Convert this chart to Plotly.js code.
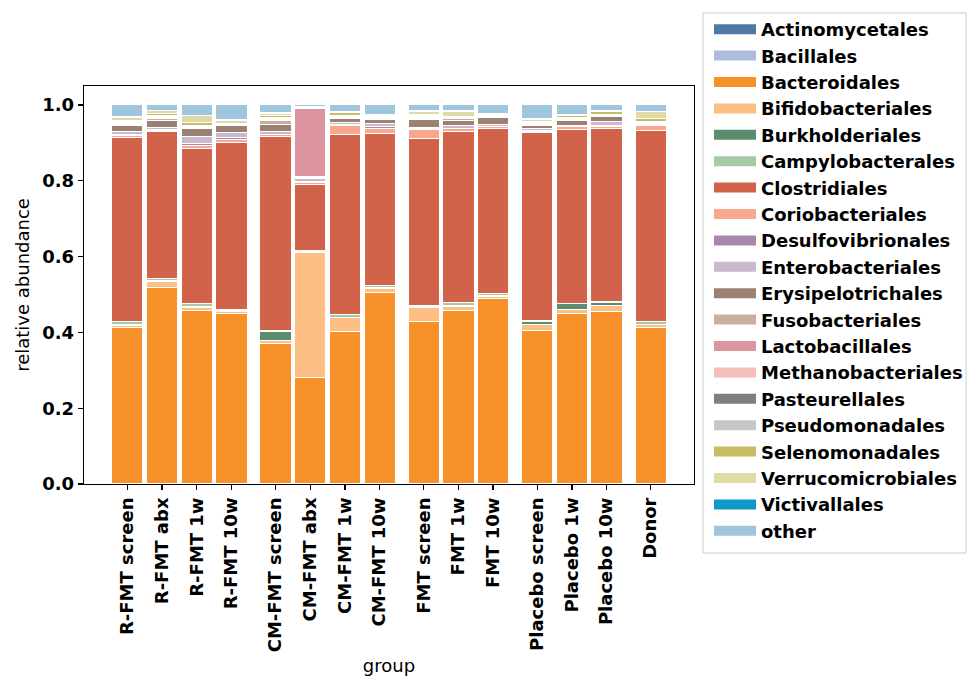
<!DOCTYPE html>
<html><head><meta charset="utf-8">
<script src="https://cdn.plot.ly/plotly-3.0.1.min.js"></script>
<style>body{margin:0;background:#fff}</style>
</head><body><div id="chart" style="width:968px;height:677px"></div>
<script>
const categories = ["R-FMT screen","R-FMT abx","R-FMT 1w","R-FMT 10w","CM-FMT screen","CM-FMT abx","CM-FMT 1w","CM-FMT 10w","FMT screen","FMT 1w","FMT 10w","Placebo screen","Placebo 1w","Placebo 10w","Donor"];
const groupSizes = [4,4,3,3,1];
const orderNames = ["Actinomycetales","Bacillales","Bacteroidales","Bifidobacteriales","Burkholderiales","Campylobacterales","Clostridiales","Coriobacteriales","Desulfovibrionales","Enterobacteriales","Erysipelotrichales","Fusobacteriales","Lactobacillales","Methanobacteriales","Pasteurellales","Pseudomonadales","Selenomonadales","Verrucomicrobiales","Victivallales","other"];
const orderColors = ["#4e79a7","#adbcd9","#f7922b","#fdbf84","#5a8c6f","#a6c9a6","#d1634a","#f9a78e","#a689a8","#c9b9cc","#9c8072","#caaea1","#dc95a0","#f2bfbc","#7f7f7f","#c6c6c6","#c8bd63","#e0d9a8","#0f99c8","#9fc6de"];

const actinomycetales   = [0.001,0.001,0.001,0.001,0.001,0.001,0.001,0.001,0.001,0.001,0.001,0.001,0.001,0.001,0.001];
const bacillales        = [0.001,0.001,0.001,0.001,0.001,0.001,0.001,0.001,0.001,0.001,0.001,0.001,0.001,0.001,0.001];
const bacteroidales     = [0.410,0.517,0.457,0.449,0.368,0.278,0.401,0.504,0.427,0.457,0.487,0.404,0.449,0.454,0.412];
const bifidobacteriales = [0.006,0.015,0.007,0.004,0.009,0.332,0.035,0.009,0.036,0.010,0.006,0.014,0.010,0.014,0.006];
const burkholderiales   = [0.003,0.004,0.003,0.002,0.023,0.001,0.002,0.003,0.002,0.002,0.002,0.009,0.014,0.010,0.002];
const campylobacterales = [0.007,0.004,0.007,0.004,0.002,0.002,0.007,0.007,0.003,0.008,0.006,0.003,0.002,0.002,0.008];
const clostridiales     = [0.486,0.387,0.410,0.440,0.512,0.174,0.475,0.401,0.442,0.451,0.435,0.496,0.459,0.456,0.502];
const coriobacteriales  = [0.005,0.003,0.007,0.009,0.005,0.006,0.025,0.012,0.024,0.007,0.004,0.003,0.006,0.006,0.013];
const desulfovibrionales= [0.003,0.002,0.005,0.004,0.002,0.002,0.002,0.004,0.002,0.002,0.002,0.002,0.002,0.003,0.002];
const enterobacteriales = [0.009,0.006,0.020,0.014,0.008,0.010,0.004,0.009,0.003,0.006,0.004,0.004,0.003,0.009,0.002];
const erysipelotrichales= [0.015,0.020,0.020,0.017,0.018,0.002,0.011,0.010,0.021,0.015,0.018,0.009,0.012,0.014,0.002];
const fusobacteriales   = [0.003,0.004,0.003,0.002,0.011,0.002,0.004,0.002,0.003,0.003,0.002,0.003,0.002,0.002,0.002];
const lactobacillales   = [0.002,0.002,0.002,0.001,0.002,0.180,0.001,0.001,0.001,0.001,0.001,0.001,0.001,0.001,0.001];
const methanobacteriales= [0.002,0.002,0.001,0.001,0.002,0.001,0.001,0.001,0.002,0.001,0.001,0.001,0.001,0.001,0.001];
const pasteurellales    = [0.001,0.001,0.001,0.001,0.001,0.001,0.001,0.001,0.001,0.001,0.001,0.001,0.001,0.001,0.001];
const pseudomonadales   = [0.002,0.002,0.002,0.001,0.002,0.001,0.002,0.002,0.002,0.002,0.002,0.001,0.002,0.001,0.001];
const selenomonadales   = [0.004,0.006,0.007,0.001,0.006,0.001,0.007,0.001,0.004,0.002,0.001,0.004,0.007,0.006,0.008];
const verrucomicrobiales= [0.008,0.008,0.018,0.007,0.005,0.001,0.003,0.004,0.008,0.014,0.002,0.004,0.002,0.002,0.017];
const victivallales     = [0.001,0.001,0.001,0.002,0.001,0.001,0.001,0.001,0.002,0.002,0.001,0.002,0.001,0.001,0.002];
const other             = [0.031,0.014,0.027,0.039,0.021,0.003,0.016,0.026,0.015,0.014,0.023,0.037,0.024,0.015,0.016];

const yTicks = [0,0.2,0.4,0.6,0.8,1.0];

const series = [actinomycetales,bacillales,bacteroidales,bifidobacteriales,burkholderiales,campylobacterales,clostridiales,coriobacteriales,desulfovibrionales,enterobacteriales,erysipelotrichales,fusobacteriales,lactobacillales,methanobacteriales,pasteurellales,pseudomonadales,selenomonadales,verrucomicrobiales,victivallales,other];

// category positions: unit spacing within a group, extra gap between groups
const groupGap = 0.27;
const positions = [];
let p = 0;
groupSizes.forEach(n => { for (let i = 0; i < n; i++) { positions.push(p); p += 1; } p += groupGap; });

const font = "DejaVu Sans, sans-serif";
const traces = [];
series.forEach((vals, k) => {
  traces.push({
    type: "bar", x: positions, y: vals, name: orderNames[k], width: 0.9,
    marker: {color: orderColors[k], line: {color: "white", width: 1}},
    showlegend: false, hoverinfo: "name+y"
  });
});
orderNames.forEach((nm, k) => {
  traces.push({
    type: "scatter", mode: "lines", x: [null], y: [null], name: nm,
    line: {color: orderColors[k], width: 10}, hoverinfo: "skip"
  });
});

const axisCommon = {
  showline: true, linecolor: "black", linewidth: 1.3, mirror: true,
  ticks: "outside", ticklen: 5, tickwidth: 1.3, tickcolor: "black",
  showgrid: false, zeroline: false,
  tickfont: {family: font, size: 18, color: "black", weight: "bold"}
};

const layout = {
  width: 968, height: 677,
  margin: {l: 84, r: 274, t: 86, b: 193, autoexpand: false},
  paper_bgcolor: "white", plot_bgcolor: "white",
  barmode: "stack", bargap: 0,
  font: {family: font, color: "black"},
  xaxis: Object.assign({}, axisCommon, {
    range: [-1.25, 16.33], tickvals: positions, ticktext: categories, tickangle: -90,
    title: {text: "group", font: {family: font, size: 18, color: "black"}, standoff: 8}
  }),
  yaxis: Object.assign({}, axisCommon, {
    range: [0, 1.05], tickvals: yTicks, tickformat: ".1f",
    title: {text: "relative abundance", font: {family: font, size: 18, color: "black"}, standoff: 8}
  }),
  legend: {
    x: 1.0246, y: 1.1885, xanchor: "left", yanchor: "top",
    borderwidth: 0, bgcolor: "rgba(0,0,0,0)",
    font: {family: font, size: 18, color: "black", weight: "bold"},
    itemwidth: 42, traceorder: "normal", maxheight: 660
  },
  shapes: [{
    type: "rect", xref: "paper", yref: "paper", layer: "below",
    x0: 1.0148, x1: 1.4459, y0: -0.1734, y1: 1.1834,
    line: {color: "#cccccc", width: 1}, fillcolor: "white"
  }],
  showlegend: true
};

Plotly.newPlot("chart", traces, layout, {displayModeBar: false, staticPlot: true});
</script></body></html>
